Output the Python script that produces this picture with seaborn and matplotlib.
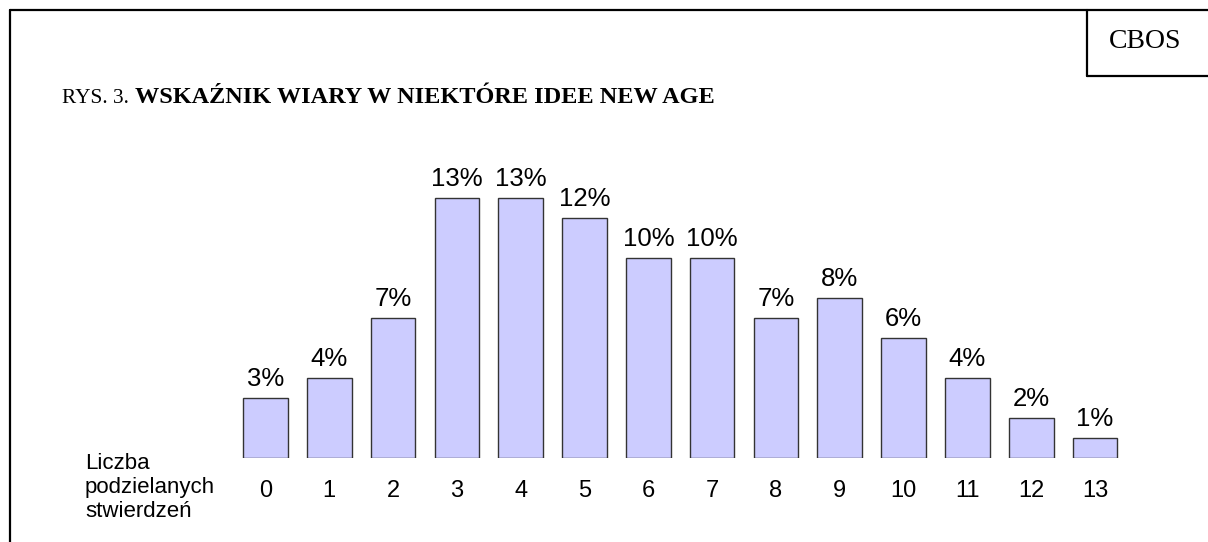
import pandas as pd
import matplotlib
matplotlib.use("Agg")
import matplotlib.pyplot as plt
import seaborn as sns
from matplotlib.lines import Line2D

# data
counts = ["0", "1", "2", "3", "4", "5", "6", "7", "8", "9", "10", "11", "12", "13"]
shares = [3, 4, 7, 13, 13, 12, 10, 10, 7, 8, 6, 4, 2, 1]

df = pd.DataFrame({"count": counts, "share": shares})

sns.set_theme(style="white")
plt.rcParams["font.family"] = ["Liberation Sans", "DejaVu Sans"]
plt.rcParams["text.color"] = "black"

fig = plt.figure(figsize=(12.08, 5.42), dpi=100)
W, H = 1208, 542
ax = fig.add_axes([233.6 / W, (H - 458) / H, 893.3 / W, 320 / H])

sns.barplot(data=df, x="count", y="share", order=counts, color="#ccccff",
            saturation=1, width=0.7, edgecolor="#333333", linewidth=1, ax=ax)
ax.set_xlim(-0.5, 13.5)
ax.set_ylim(0, 16)
ax.bar_label(ax.containers[0], fmt="%d%%", padding=5, fontsize=18.5, color="black")

ax.set_xlabel("")
ax.set_ylabel("")
ax.set_yticks([])
ax.tick_params(axis="x", length=0, pad=16, labelsize=17, colors="black")
sns.despine(ax=ax, left=True, bottom=True)

# axis caption on the left
fig.text(85 / W, 1 - 453 / H, "Liczba\npodzielanych\nstwierdzeń", fontsize=16,
         va="top", ha="left", linespacing=1.2, color="black")

# title
fig.text(62 / W, 1 - 103 / H, "RYS. 3.", family="Liberation Serif", fontsize=15.3,
         va="baseline", ha="left", color="black")
fig.text(135 / W, 1 - 103 / H, "WSKAŹNIK WIARY W NIEKTÓRE IDEE NEW AGE",
         family="Liberation Serif", fontsize=17.5, fontweight="bold",
         va="baseline", ha="left", color="black")

# CBOS box
fig.text(1145 / W, 1 - 41 / H, "CBOS", family="Liberation Serif", fontsize=20,
         va="center", ha="center", color="black")

# frame lines
lw = 1.6
fig.add_artist(Line2D([10 / W, 1], [1 - 10 / H, 1 - 10 / H], color="black", lw=lw))
fig.add_artist(Line2D([10 / W, 10 / W], [1 - 10 / H, 0], color="black", lw=lw))
fig.add_artist(Line2D([1087 / W, 1087 / W], [1 - 10 / H, 1 - 76 / H], color="black", lw=lw))
fig.add_artist(Line2D([1087 / W, 1], [1 - 76 / H, 1 - 76 / H], color="black", lw=lw))

fig.savefig("out.png", dpi=100, facecolor="white")
